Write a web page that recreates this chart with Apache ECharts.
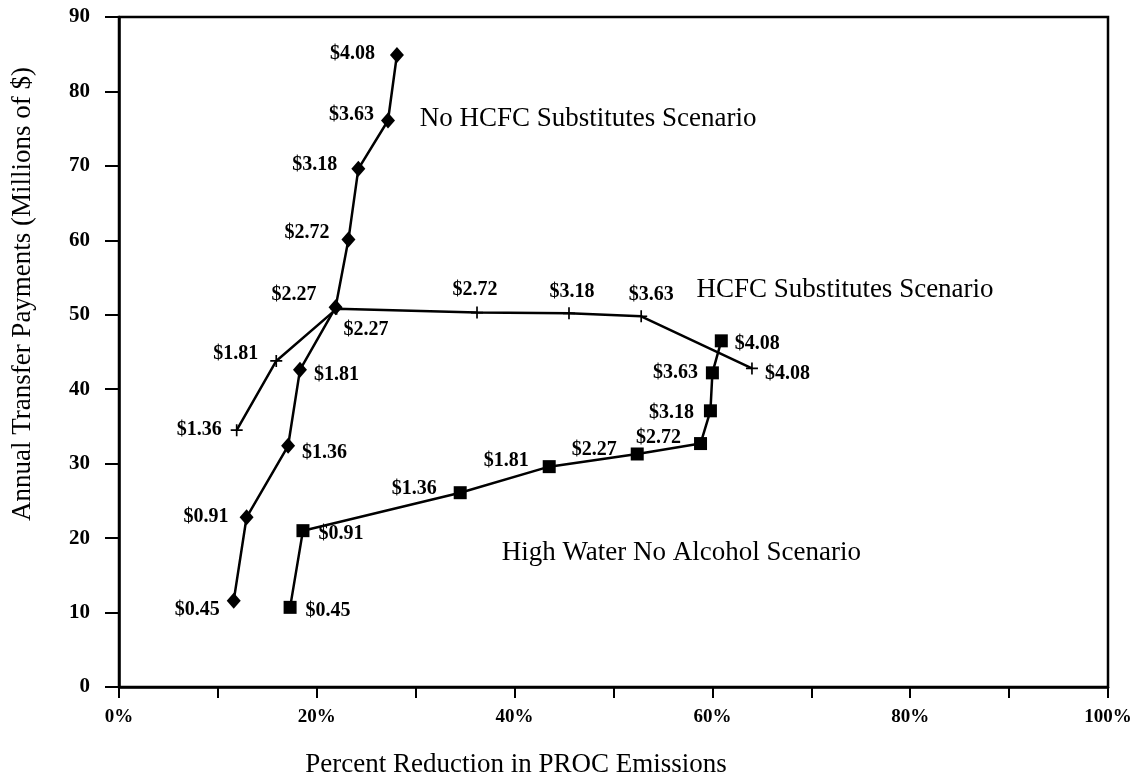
<!DOCTYPE html>
<html>
<head>
<meta charset="utf-8">
<script src="https://cdn.jsdelivr.net/npm/echarts@6/dist/echarts.min.js"></script>
<style>html,body{margin:0;padding:0;background:#fff}#c{width:1137px;height:776px}</style>
</head>
<body>
<div id="c"></div>
<script>
// ---- data ----
const priceLabels = ['$0.45','$0.91','$1.36','$1.81','$2.27','$2.72','$3.18','$3.63','$4.08'];

const noHcfcX = [11.6, 12.9, 17.1, 18.3, 21.9, 23.2, 24.2, 27.2, 28.1];
const noHcfcY = [11.6, 22.8, 32.4, 42.6, 51.0, 60.1, 69.6, 76.1, 84.9];

const hcfcLabels = ['$1.36','$1.81','$2.27','$2.72','$3.18','$3.63','$4.08'];
const hcfcX = [11.9, 15.9, 22.0, 36.2, 45.5, 52.8, 64.0];
const hcfcY = [34.5, 43.8, 50.8, 50.3, 50.2, 49.8, 42.8];

const highWaterX = [17.3, 18.6, 34.5, 43.5, 52.4, 58.8, 59.8, 60.0, 60.9];
const highWaterY = [10.7, 21.0, 26.1, 29.6, 31.3, 32.7, 37.1, 42.2, 46.5];

const scenarioNames = ['No HCFC Substitutes Scenario', 'HCFC Substitutes Scenario', 'High Water No Alcohol Scenario'];
const scenarioX = [30.4, 58.4, 38.7];
const scenarioY = [76.3, 53.4, 18.0];

const xTickLabels = [0, 20, 40, 60, 80, 100];
const xTitle = 'Percent Reduction in PROC Emissions';
const yTitle = 'Annual Transfer Payments (Millions of $)';

// ---- label placement (style only) ----
const noHcfcLabelPos = [['left',[0,9]],['left',[-4,0]],['right',[0,7]],['right',[0,5]],['right',[-6,22]],['left',[-5,-7]],['left',[-7,-4]],['left',[0,-6]],['left',[-8,-1]]];
const hcfcLabelPos = [['left',[-2,0]],['left',[-5,-7]],['left',[-7,-14]],['top',[-2,0]],['top',[3,2]],['top',[10,2]],['right',[0,5]]];
const highWaterLabelPos = [['right',[2,3]],['right',[2,3]],['left',[-10,-4]],['left',[-7,-6]],['left',[-7,-4]],['left',[-6,-6]],['left',[-3,2]],['left',[-1,0]],['right',[0,3]]];

const SERIF = '"Liberation Serif", "Times New Roman", serif';
const labelFont = {fontFamily: SERIF, fontWeight: 'bold', fontSize: 20, color: '#000'};

function build(xs, ys, labels, pos) {
  return xs.map((x, i) => ({
    value: [x, ys[i]],
    label: Object.assign({show: true, formatter: labels[i], position: pos[i][0], offset: pos[i][1], distance: 7}, labelFont)
  }));
}

const plusPath = 'path://M4.3,0h1.4v10h-1.4z M0,4.3h10v1.4h-10z';

const chart = echarts.init(document.getElementById('c'), null, {renderer: 'canvas'});
chart.setOption({
  animation: false,
  backgroundColor: '#fff',
  grid: {left: 119, right: 29, top: 17, bottom: 89, show: true, borderColor: '#000', borderWidth: 2.5},
  xAxis: {
    type: 'value', min: 0, max: 100, interval: 10,
    axisLine: {show: true, lineStyle: {color: '#000', width: 2.5}},
    axisTick: {show: true, length: 11, lineStyle: {color: '#000', width: 2}},
    splitLine: {show: false},
    axisLabel: {
      formatter: v => xTickLabels.indexOf(v) >= 0 ? v + '%' : '',
      fontFamily: SERIF, fontWeight: 'bold', fontSize: 19, color: '#000', margin: 21
    }
  },
  yAxis: {
    type: 'value', min: 0, max: 90, interval: 10,
    axisLine: {show: true, lineStyle: {color: '#000', width: 2.5}},
    axisTick: {show: true, length: 14, lineStyle: {color: '#000', width: 2}},
    splitLine: {show: false},
    axisLabel: {fontFamily: SERIF, fontWeight: 'bold', fontSize: 21, color: '#000', margin: 29}
  },
  graphic: [
    {
      type: 'text', x: 516, y: 765,
      style: {text: xTitle, font: '27px ' + SERIF, fill: '#000', textAlign: 'center', textVerticalAlign: 'middle'}
    },
    {
      type: 'text', x: 23, y: 294, rotation: Math.PI / 2,
      style: {text: yTitle, font: '27px ' + SERIF, fill: '#000', textAlign: 'center', textVerticalAlign: 'middle'}
    }
  ],
  series: [
    {
      name: 'No HCFC', type: 'line', symbol: 'diamond', symbolSize: [14, 16],
      lineStyle: {color: '#000', width: 2.5}, itemStyle: {color: '#000'},
      data: build(noHcfcX, noHcfcY, priceLabels, noHcfcLabelPos), z: 3
    },
    {
      name: 'HCFC', type: 'line', symbol: plusPath, symbolSize: 12,
      lineStyle: {color: '#000', width: 2.5}, itemStyle: {color: '#000'},
      data: build(hcfcX, hcfcY, hcfcLabels, hcfcLabelPos), z: 3
    },
    {
      name: 'High Water', type: 'line', symbol: 'rect', symbolSize: 13,
      lineStyle: {color: '#000', width: 2.5}, itemStyle: {color: '#000'},
      data: build(highWaterX, highWaterY, priceLabels, highWaterLabelPos), z: 3
    },
    {
      name: 'Scenarios', type: 'scatter', symbolSize: 0, silent: true,
      itemStyle: {color: '#000', opacity: 1},
      data: scenarioX.map((x, i) => ({value: [x, scenarioY[i]], name: scenarioNames[i]})),
      label: {show: true, position: 'right', distance: 0, formatter: p => p.name, opacity: 1,
              fontFamily: SERIF, fontSize: 27, color: '#000'}
    }
  ]
});
</script>
</body>
</html>
